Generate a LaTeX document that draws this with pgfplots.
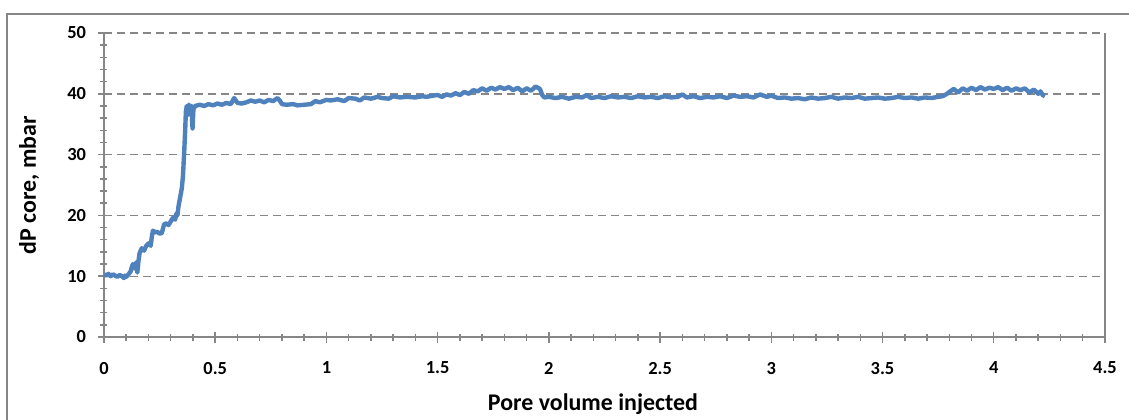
\documentclass[border=0pt]{standalone}
\usepackage{pgfplots}
\pgfplotsset{compat=1.18}
\usepackage{fontspec}
\setmainfont{Carlito}
\definecolor{exblue}{RGB}{79,129,189}
\definecolor{axgray}{RGB}{134,134,134}
\begin{document}
\begin{tikzpicture}[x=1bp,y=1bp]
\useasboundingbox (-104,-82) rectangle (1025,337);
\draw[axgray,line width=1.6bp] (-97,-90) -- (-97,323) -- (1030,323);
\begin{axis}[
  at={(0,0)}, anchor=south west,
  scale only axis, width=1001bp, height=304bp,
  xmin=0, xmax=4.5, ymin=0, ymax=50,
  axis x line*=bottom, axis y line*=left,
  axis line style={axgray,line width=1.6bp,-},
  xtick={0,0.5,...,4.5}, ytick={0,10,...,50},
  minor x tick num=4, minor y tick num=4,
  tick align=center,
  major tick length=11bp, minor tick length=7bp,
  every tick/.style={axgray,line width=1.5bp},
  ymajorgrids,
  grid style={axgray,line width=1.4bp,dash pattern=on 8bp off 5bp},
  /pgf/number format/assume math mode=true,
  ticklabel style={font=\bfseries\fontsize{18.5}{22}\selectfont},
  xticklabel style={yshift=-16bp},
  yticklabel style={xshift=-9bp},
  clip=false,
]
\addplot[exblue, line width=4.4bp, line join=round] coordinates {
(0.000,10.3)(0.010,10.1)(0.020,10.4)(0.030,10.0)(0.040,10.3)(0.050,10.1)(0.060,9.9)(0.070,10.2)(0.080,10.0)(0.090,9.7)(0.095,10.1)(0.100,9.9)
(0.110,10.3)(0.120,10.8)(0.125,11.5)(0.130,12.0)(0.140,11.2)(0.145,12.3)(0.150,10.6)(0.155,12.5)(0.160,13.8)(0.170,14.6)(0.180,14.2)(0.190,15.0)
(0.200,15.4)(0.210,15.0)(0.215,16.5)(0.220,17.5)(0.230,17.2)(0.240,17.3)(0.250,17.0)(0.260,17.1)(0.270,18.5)(0.280,18.7)(0.290,18.4)(0.300,19.0)
(0.310,19.6)(0.320,19.3)(0.325,20.3)(0.330,20.0)(0.335,21.5)(0.340,22.5)(0.345,23.5)(0.350,24.5)(0.355,26.5)(0.360,30.0)(0.365,34.0)(0.368,37.0)
(0.372,38.0)(0.377,36.5)(0.382,38.2)(0.388,37.8)(0.393,38.0)(0.398,34.3)(0.402,37.5)(0.410,38.0)(0.430,38.2)(0.450,38.0)(0.470,38.3)(0.490,38.1)
(0.510,38.4)(0.530,38.2)(0.550,38.5)(0.570,38.3)(0.585,39.3)(0.600,38.5)(0.620,38.4)(0.640,38.6)(0.660,38.9)(0.680,38.7)(0.700,38.9)(0.720,38.6)
(0.740,39.0)(0.760,38.8)(0.780,39.3)(0.790,38.9)(0.800,38.3)(0.820,38.2)(0.850,38.3)(0.870,38.1)(0.900,38.2)(0.930,38.3)(0.950,38.8)(0.970,38.6)
(1.000,39.0)(1.020,38.9)(1.050,39.1)(1.080,38.8)(1.100,39.3)(1.130,39.2)(1.150,38.9)(1.170,39.4)(1.200,39.2)(1.230,39.5)(1.250,39.3)(1.280,39.2)
(1.300,39.6)(1.330,39.4)(1.360,39.5)(1.400,39.4)(1.430,39.6)(1.450,39.5)(1.480,39.7)(1.500,39.8)(1.520,39.5)(1.540,39.9)(1.560,39.7)(1.580,40.1)
(1.600,39.8)(1.620,40.3)(1.640,40.0)(1.660,40.6)(1.680,40.4)(1.700,40.9)(1.720,40.5)(1.740,41.0)(1.760,40.7)(1.780,41.1)(1.800,40.8)(1.820,41.1)
(1.840,40.6)(1.860,41.0)(1.880,40.4)(1.900,40.9)(1.920,40.5)(1.940,41.2)(1.960,40.8)(1.970,39.8)(1.980,39.4)(2.000,39.5)(2.030,39.3)(2.060,39.5)
(2.090,39.2)(2.120,39.5)(2.150,39.4)(2.170,39.8)(2.190,39.3)(2.220,39.5)(2.250,39.3)(2.280,39.6)(2.310,39.4)(2.340,39.5)(2.370,39.3)(2.400,39.6)
(2.430,39.4)(2.460,39.5)(2.490,39.3)(2.520,39.6)(2.550,39.4)(2.580,39.5)(2.600,39.9)(2.620,39.4)(2.650,39.6)(2.680,39.3)(2.710,39.5)(2.740,39.4)
(2.770,39.6)(2.800,39.3)(2.830,39.7)(2.860,39.5)(2.890,39.6)(2.920,39.4)(2.950,39.9)(2.980,39.5)(3.000,39.7)(3.030,39.3)(3.060,39.4)(3.090,39.2)
(3.120,39.3)(3.150,39.1)(3.180,39.4)(3.210,39.2)(3.240,39.3)(3.270,39.5)(3.300,39.2)(3.330,39.4)(3.360,39.3)(3.390,39.5)(3.420,39.2)(3.450,39.3)
(3.480,39.4)(3.510,39.2)(3.540,39.3)(3.570,39.5)(3.600,39.3)(3.630,39.4)(3.660,39.2)(3.690,39.4)(3.720,39.3)(3.750,39.5)(3.770,39.6)(3.790,40.0)
(3.800,40.3)(3.820,40.8)(3.840,40.2)(3.860,40.9)(3.880,40.5)(3.900,41.0)(3.920,40.6)(3.940,41.1)(3.960,40.7)(3.980,41.0)(4.000,40.8)(4.020,41.1)
(4.040,40.6)(4.060,41.0)(4.080,40.5)(4.100,40.9)(4.120,40.6)(4.140,40.9)(4.160,40.2)(4.180,40.7)(4.200,40.0)(4.210,40.4)(4.220,39.8)(4.230,39.6)
};
\draw[axgray,line width=1.6bp] (rel axis cs:1,0) -- (rel axis cs:1,1);
\end{axis}
\node[font=\bfseries\fontsize{24}{28}\selectfont, anchor=base] at (489,-73) {Pore volume injected};
\node[font=\bfseries\fontsize{24}{28}\selectfont, rotate=90] at (-75,152) {dP core, mbar};
\end{tikzpicture}
\end{document}
